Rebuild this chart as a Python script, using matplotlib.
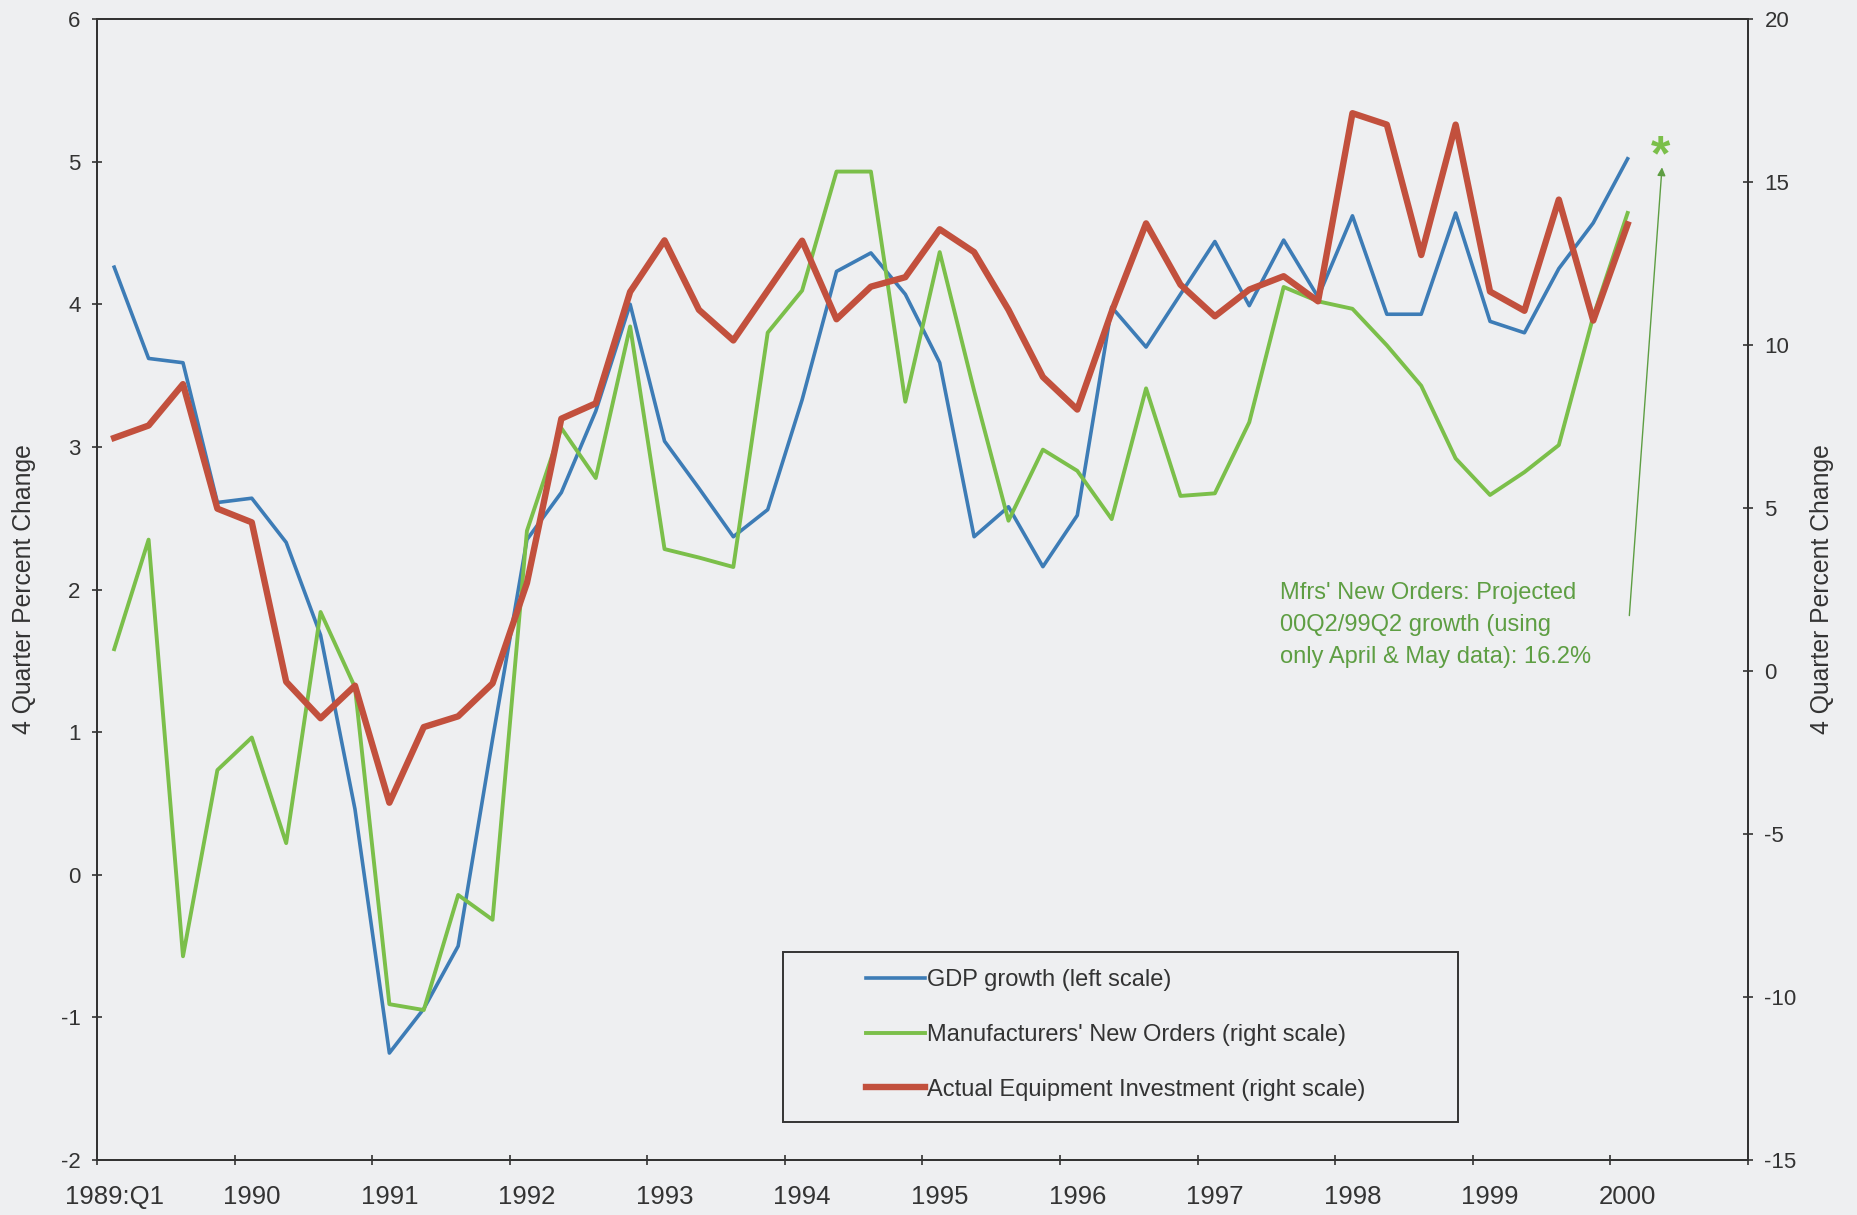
import matplotlib
matplotlib.use('Agg')
import matplotlib.pyplot as plt
import numpy as np
from matplotlib.patches import Rectangle

plt.rcParams['font.family'] = ['Liberation Sans', 'DejaVu Sans']
plt.rcParams['axes.unicode_minus'] = False

# quarterly data, 1989:Q1 .. 2000:Q1
gdp_growth = [4.26, 3.62, 3.59, 2.61, 2.64, 2.33, 1.68, 0.46, -1.25, -0.94,
              -0.50, 0.95, 2.35, 2.68, 3.25, 4.00, 3.04, 2.71, 2.37, 2.56,
              3.33, 4.23, 4.36, 4.07, 3.59, 2.37, 2.58, 2.16, 2.52, 3.98,
              3.70, 4.07, 4.44, 3.99, 4.45, 4.05, 4.62, 3.93, 3.93, 4.64,
              3.88, 3.80, 4.25, 4.57, 5.02]
new_orders = [0.67, 4.03, -8.75, -3.04, -2.04, -5.28, 1.81, -0.5, -10.22, -10.40,
              -6.87, -7.63, 4.3, 7.45, 5.92, 10.57, 3.74, 3.48, 3.19, 10.38,
              11.67, 15.32, 15.32, 8.26, 12.85, 8.6, 4.61, 6.79, 6.14, 4.66,
              8.67, 5.37, 5.45, 7.63, 11.78, 11.34, 11.11, 9.99, 8.75, 6.52,
              5.40, 6.10, 6.93, 10.87, 14.05]
equip_invest = [7.15, 7.53, 8.80, 4.98, 4.56, -0.33, -1.45, -0.45, -4.04, -1.72,
                -1.39, -0.38, 2.7, 7.74, 8.21, 11.63, 13.21, 11.08, 10.14, 11.67,
                13.20, 10.79, 11.79, 12.08, 13.55, 12.85, 11.08, 9.02, 8.02, 11.02,
                13.73, 11.85, 10.88, 11.70, 12.11, 11.34, 17.11, 16.76, 12.76, 16.76,
                11.64, 11.05, 14.46, 10.75, 13.70]
projected_orders = 16.2  # 00Q2/99Q2, April & May only
year_labels = ['1989:Q1', '1990', '1991', '1992', '1993', '1994', '1995',
               '1996', '1997', '1998', '1999', '2000']

blue = '#3d7cb6'
green = '#7bbf4a'
red = '#c2503d'
text_green = '#5e9e43'
dark = '#333333'
bg = '#eeeff1'

quarters = np.arange(len(gdp_growth))

fig = plt.figure(figsize=(18.57, 12.15), dpi=100, facecolor=bg)
ax = fig.add_axes([97 / 1857, 1 - 1160 / 1215, 1651 / 1857, 1141 / 1215])
ax.set_facecolor(bg)
ax2 = ax.twinx()

l1, = ax.plot(quarters, gdp_growth, color=blue, lw=2.6, label='GDP growth (left scale)')
l2, = ax2.plot(quarters, new_orders, color=green, lw=2.8,
               label="Manufacturers' New Orders (right scale)")
l3, = ax2.plot(quarters, equip_invest, color=red, lw=4.6,
               label='Actual Equipment Investment (right scale)')

ax.set_xlim(-0.5, 47.5)
ax.set_ylim(-2, 6)
ax2.set_ylim(-15, 20)
ax.set_yticks(np.arange(-2, 7, 1))
ax2.set_yticks(np.arange(-15, 21, 5))

# tick marks on year boundaries, labels under first quarter
ax.set_xticks(np.arange(-0.5, 48, 4))
ax.set_xticklabels([])
ax.set_xticks(np.arange(0, 48, 4), minor=True)
ax.set_xticklabels(year_labels, minor=True)

ax.tick_params(axis='x', which='major', direction='inout', length=7.7, width=1.2, color=dark)
ax.tick_params(axis='x', which='minor', length=0, labelsize=18.5, pad=18, labelcolor=dark)
ax.tick_params(axis='y', direction='inout', length=7.7, width=1.2, color=dark,
               labelsize=16, pad=8, labelcolor=dark)
ax2.tick_params(axis='y', direction='inout', length=7.7, width=1.2, color=dark,
                labelsize=16, pad=8, labelcolor=dark)

for a in (ax, ax2):
    for s in a.spines.values():
        s.set_color(dark)
        s.set_linewidth(1.4)

ax.set_ylabel('4 Quarter Percent Change', fontsize=17.8, color=dark)
ax2.set_ylabel('4 Quarter Percent Change', fontsize=17.8, color=dark)
ax.yaxis.label.set_va('center')
ax2.yaxis.label.set_va('center')
ax.yaxis.set_label_coords((24 - 97) / 1651, 0.5)
ax2.yaxis.set_label_coords((1822 - 97) / 1651, 0.5)

# projection note
ax.text((1280 - 97) / 1651, 1 - (625 - 19) / 1141,
        "Mfrs' New Orders: Projected\n00Q2/99Q2 growth (using\nonly April & May data): 16.2%",
        transform=ax.transAxes, fontsize=17, color=text_green, va='center', ha='left',
        linespacing=1.58)
last_q = quarters[-1] + 1
ax2.annotate('', xy=(last_q, projected_orders - 0.75), xytext=(last_q - 0.95, 1.7),
             arrowprops=dict(arrowstyle='-|>', color=text_green, lw=1.0,
                             mutation_scale=12, shrinkA=0, shrinkB=0))
ax2.annotate('*', xy=(last_q - 0.05, projected_orders), xytext=(0, -7),
             textcoords='offset points', fontsize=36, fontweight='bold',
             color=green, ha='center', va='center_baseline')

# legend with its own box
fig.add_artist(Rectangle((782.5 / 1857, 1 - 1121.7 / 1215), 675 / 1857, 170 / 1215,
                         transform=fig.transFigure, fill=False, edgecolor=dark, lw=1.4))
leg = fig.legend(handles=[l1, l2, l3], loc='center left',
                 bbox_to_anchor=(866 / 1857, 1 - 1035 / 1215), frameon=False,
                 fontsize=17, handlelength=2.5, handletextpad=0.08,
                 labelspacing=1.38, borderpad=0, borderaxespad=0)
for t in leg.get_texts():
    t.set_color(dark)

fig.savefig('out.png', dpi=100, facecolor=bg)
